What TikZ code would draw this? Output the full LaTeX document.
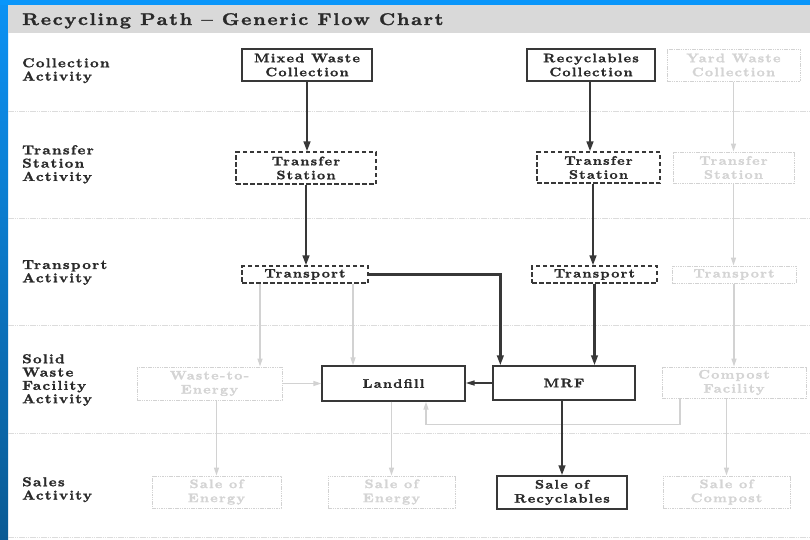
\documentclass[tikz,border=0pt]{standalone}
\usepackage{fontspec}
\newfontfamily\chartfont{lmroman10}[Extension=.otf, UprightFont=*-bold, FakeStretch=1.15, FakeBold=1.5, LetterSpace=10]
\usetikzlibrary{arrows.meta}
\definecolor{ink}{HTML}{2A2A2A}
\definecolor{linedark}{HTML}{383838}
\definecolor{fadeline}{HTML}{D2D2D2}
\definecolor{fadetext}{HTML}{D4D4D4}
\definecolor{rowline}{HTML}{DCDCDC}
\definecolor{titlebar}{HTML}{D9D9D9}
\definecolor{frametop}{HTML}{0A96FA}
\definecolor{frameleftA}{HTML}{0C92F4}
\definecolor{frameleftB}{HTML}{0A5A94}
\tikzset{
  boxtext/.style={font=\chartfont\fontsize{12.4}{14}\selectfont, align=center, inner sep=0pt, text=ink},
  rowlabel/.style={font=\chartfont\fontsize{13}{13.3}\selectfont, align=left, inner sep=0pt, anchor=north west, text=ink},
  solidbox/.style={boxtext, draw=linedark, line width=1.3pt},
  dashbox/.style={boxtext, draw=linedark, line width=1.1pt, dash pattern=on 4.5pt off 2.5pt},
  fadebox/.style={boxtext, draw=fadeline, line width=1pt, dash pattern=on 1.5pt off 0.8pt, text=fadetext},
  darrow/.style={draw=linedark, line width=2.4pt, -{Triangle[length=10pt,width=6.5pt]}},
  thinarrow/.style={draw=linedark, line width=1.6pt, -{Triangle[length=9pt,width=5pt]}},
  farrow/.style={draw=fadeline, line width=1.4pt, -{Triangle[length=8pt,width=5pt]}},
  sep/.style={draw=rowline, line width=0.9pt, dash pattern=on 1.5pt off 0.7pt}
}
\begin{document}
\begin{tikzpicture}[x=1pt,y=-1pt]
\useasboundingbox (0,0) rectangle (810,539);
% frame and title bar
\fill[white] (0,0) rectangle (810,539);
\shade[top color=frameleftA, bottom color=frameleftB] (0,0) rectangle (8,539);
\fill[frametop] (0,0) rectangle (810,5);
\fill[titlebar] (8,5) rectangle (810,33);
\node[font=\chartfont\fontsize{17}{18}\selectfont, inner sep=0pt, anchor=base west, text=ink] (title) at (22,25) {Recycling Path – Generic Flow Chart};

% row separators
\foreach \yy in {111,218,325,433,537} \draw[sep] (8,\yy) -- (810,\yy);

% row labels
\node[rowlabel] (lab1) at (22,58) {Collection\\Activity};
\node[rowlabel] (lab2) at (22,145) {Transfer\\Station\\Activity};
\node[rowlabel] (lab3) at (22,260) {Transport\\Activity};
\node[rowlabel] (lab4) at (22,354) {Solid\\Waste\\Facility\\Activity};
\node[rowlabel] (lab5) at (22,477) {Sales\\Activity};

% collection row
\node[solidbox, minimum width=130pt, minimum height=32pt] (mwc) at (307,65) {Mixed Waste\\Collection};
\node[solidbox, minimum width=128pt, minimum height=32pt] (rc) at (591,65) {Recyclables\\Collection};
\node[fadebox, minimum width=133pt, minimum height=32pt] (ywc) at (733.5,65) {Yard Waste\\Collection};

% transfer station row
\node[dashbox, minimum width=140pt, minimum height=32pt] (tsl) at (306,168) {Transfer\\Station};
\node[dashbox, minimum width=123pt, minimum height=31pt] (tsr) at (598.5,167.5) {Transfer\\Station};
\node[fadebox, minimum width=121pt, minimum height=31pt] (tsf) at (733.5,167.5) {Transfer\\Station};

% transport row
\node[dashbox, minimum width=126pt, minimum height=17pt] (trl) at (305,274.5) {Transport};
\node[dashbox, minimum width=125pt, minimum height=17pt] (trr) at (594.5,274.5) {Transport};
\node[fadebox, minimum width=124pt, minimum height=17pt] (trf) at (734,274.5) {Transport};

% facility row
\node[fadebox, minimum width=145pt, minimum height=33pt] (wte) at (209.5,383.5) {Waste-to-\\Energy};
\node[solidbox, minimum width=143pt, minimum height=35pt] (lf) at (393.5,383.5) {Landfill};
\node[solidbox, minimum width=142pt, minimum height=34pt] (mrf) at (564,383) {MRF};
\node[fadebox, minimum width=144pt, minimum height=31pt] (cf) at (734,382.5) {Compost\\Facility};

% sales row
\node[fadebox, minimum width=129pt, minimum height=32pt] (se1) at (216.5,492) {Sale of\\Energy};
\node[fadebox, minimum width=127pt, minimum height=32pt] (se2) at (391.5,492) {Sale of\\Energy};
\node[solidbox, minimum width=130pt, minimum height=33pt] (sr) at (562,492.5) {Sale of\\Recyclables};
\node[fadebox, minimum width=127pt, minimum height=32pt] (sc) at (726.5,492) {Sale of\\Compost};

% faded paths
\draw[farrow] (ywc.south) -- (ywc.south |- tsf.north);
\draw[farrow] (tsf.south) -- (tsf.south |- trf.north);
\draw[farrow] (trf.south) -- (trf.south |- cf.north);
\draw[farrow] ([xshift=-45pt]trl.south) -- ([xshift=-45pt]trl.south |- wte.north);
\draw[farrow] ([xshift=48pt]trl.south) -- ([xshift=48pt]trl.south |- lf.north);
\draw[farrow] (wte.east) -- (lf.west |- wte.east);
\draw[farrow] (se1.north |- wte.south) -- (se1.north);
\draw[farrow] (se2.north |- lf.south) -- (se2.north);
\draw[farrow] ([xshift=-54pt]cf.south) -- ++(0,26) -| ([xshift=32.5pt]lf.south);
\draw[farrow] (sc.north |- cf.south) -- (sc.north);

% main paths
\draw[darrow] (mwc.south) -- (mwc.south |- tsl.north);
\draw[darrow] (tsl.south) -- (tsl.south |- trl.north);
\draw[darrow] (trl.east) -| ([xshift=8pt]mrf.north west);
\draw[darrow] ([xshift=-1pt]rc.south) -- ([xshift=-1pt]rc.south |- tsr.north);
\draw[darrow] ([xshift=-5.5pt]tsr.south) -- ([xshift=-5.5pt]tsr.south |- trr.north);
\draw[darrow] (trr.south) -- (trr.south |- mrf.north);
\draw[thinarrow] (mrf.west) -- (lf.east |- mrf.west);
\draw[darrow] (sr.north |- mrf.south) -- (sr.north);
\end{tikzpicture}
\end{document}
